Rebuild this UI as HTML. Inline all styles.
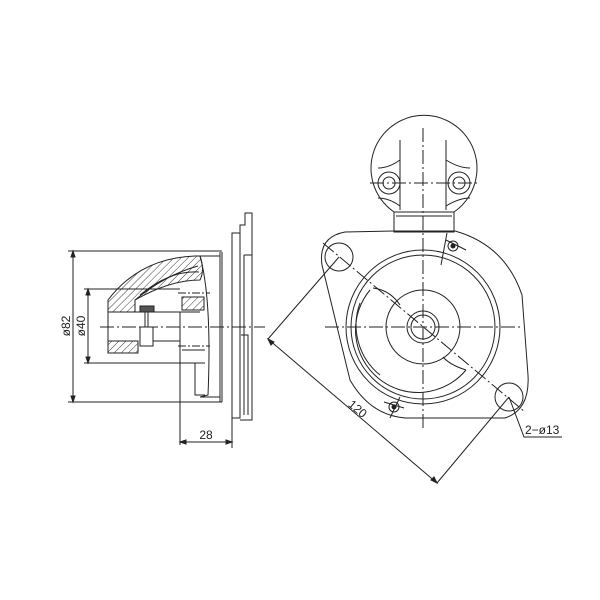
<!DOCTYPE html>
<html><head><meta charset="utf-8"><style>html,body{margin:0;padding:0;background:#fff}svg{display:block}</style></head><body>
<svg width="600" height="600" viewBox="0 0 600 600" xmlns="http://www.w3.org/2000/svg">
<defs>
<pattern id="h" width="5" height="5" patternUnits="userSpaceOnUse" patternTransform="rotate(45)"><line x1="0" y1="0" x2="0" y2="5" stroke="#222" stroke-width="0.9"/></pattern>
</defs>
<g fill="none" stroke="#222" stroke-width="1">
<!-- LEFT VIEW -->
<!-- dimension lines -->
<line x1="73" y1="251" x2="73" y2="402"/>
<line x1="68" y1="251" x2="222" y2="251"/>
<line x1="68" y1="402" x2="222" y2="402"/>
<line x1="88" y1="289" x2="88" y2="363"/>
<line x1="84" y1="289" x2="180" y2="289"/>
<line x1="84" y1="363" x2="205" y2="363"/>
<!-- mounting plate -->
<rect x="232" y="233" width="8" height="185"/>
<path d="M240 233 V225 H245 V213 H252 V420 H240"/>
<line x1="244" y1="255" x2="252" y2="255"/>
<line x1="244" y1="255" x2="244" y2="415"/>
<path d="M241 335 H248 V415"/>
<!-- body -->
<path d="M220 252 V402 M222 252 V402"/>
<path d="M200 256 H220 M200 397 H220"/>
<path d="M200 256 Q212 300 208 395 L200 397"/>
<!-- hatched arc housing -->
<path d="M108 300 Q140 258 195 256 L200 256 Q205 270 200 280 Q170 280 135 300 L135 312 H108 Z" fill="url(#h)"/>
<path d="M135 300 Q165 275 198 266" />
<path d="M140 295 Q170 270 199 272" />
<rect x="182" y="297" width="22" height="13" fill="url(#h)"/>
<rect x="108" y="341" width="30" height="12" fill="url(#h)"/>
<rect x="140" y="306" width="14" height="6" fill="#555"/>
<rect x="140" y="327" width="13" height="19"/>
<line x1="145" y1="312" x2="145" y2="327"/>
<line x1="148" y1="312" x2="148" y2="327"/>
<line x1="108" y1="312" x2="108" y2="353"/>
<line x1="108" y1="312" x2="200" y2="312"/>
<line x1="153" y1="341" x2="180" y2="341"/>
<line x1="180" y1="312" x2="180" y2="445"/>
<path d="M182 350 H205 M195 363 V395 H205"/>
<line x1="178" y1="293" x2="210" y2="293" stroke-dasharray="8 2 2 2"/>
<line x1="178" y1="346" x2="210" y2="346" stroke-dasharray="8 2 2 2"/>
<line x1="100" y1="327" x2="265" y2="327" stroke-dasharray="14 3 2 3"/>
<!-- 28 dimension -->
<line x1="232" y1="418" x2="232" y2="448"/>
<line x1="180" y1="442" x2="232" y2="442"/>
<path d="M180 442 l6 -2 v4 z M232 442 l-6 -2 v4 z" fill="#222"/>
<path d="M73 251 l-2 6 h4 z M73 402 l-2 -6 h4 z M88 289 l-2 6 h4 z M88 363 l-2 -6 h4 z" fill="#222"/>

<!-- RIGHT VIEW -->
<!-- top cap -->
<path d="M394 212 A53 53 0 1 1 454 212"/>
<path d="M400 140 V210 M446 140 V210"/>
<rect x="394" y="212" width="60" height="20"/>
<line x1="396" y1="216" x2="452" y2="216"/>
<circle cx="389" cy="183" r="11"/><circle cx="389" cy="183" r="6"/>
<circle cx="459" cy="183" r="11"/><circle cx="459" cy="183" r="6"/>
<path d="M378 168 Q389 168 400 160 M378 198 Q389 198 400 206 M470 168 Q459 168 446 160 M470 198 Q459 198 446 206"/>
<line x1="370" y1="183" x2="480" y2="183" stroke-dasharray="14 3 2 3"/>
<line x1="423" y1="128" x2="423" y2="430" stroke-dasharray="14 3 2 3"/>
<!-- flange -->
<path d="M394 231 H455 Q505 245 522 295 L528 375 Q530 410 505 418 H405 Q370 415 350 380 L322 265 Q318 237 345 232 Z"/>
<circle cx="339" cy="257" r="14"/>
<circle cx="509" cy="397" r="14"/>
<circle cx="453" cy="246" r="5"/><circle cx="453" cy="246" r="2" fill="#222"/>
<circle cx="394" cy="407" r="5"/><circle cx="394" cy="407" r="2" fill="#222"/>
<path d="M447 233 L441 265 M446 240 L466 250 M400 397 L390 418 M384 402 L404 408"/>
<!-- circles -->
<circle cx="423" cy="327" r="77"/>
<circle cx="423" cy="327" r="72"/>
<path d="M370 290 A60 60 0 1 0 466 370"/>
<path d="M360 303 A64 64 0 0 0 380 375"/>
<path d="M373 288 Q390 290 400 305 M466 370 Q450 365 443 357"/>
<circle cx="423" cy="327" r="37" stroke-dasharray="40 0"/>
<circle cx="423" cy="327" r="16"/>
<circle cx="423" cy="327" r="12"/>
<line x1="325" y1="327" x2="522" y2="327" stroke-dasharray="14 3 2 3"/>
<line x1="323" y1="243" x2="525" y2="412" stroke-dasharray="14 3 2 3"/>
<!-- 120 dim -->
<line x1="268" y1="339" x2="437" y2="483"/>
<line x1="268" y1="339" x2="339" y2="257"/>
<line x1="437" y1="483" x2="509" y2="397"/>
<path d="M268 339 l3 6 l3 -3 z M437 483 l-3 -6 l-3 3 z" fill="#222"/>
<path d="M509 397 L524 437 H562"/>
</g>
<g font-family="Liberation Sans, sans-serif" font-size="12" fill="#222">
<text x="70" y="326" transform="rotate(-90 70 326)" text-anchor="middle">ø82</text>
<text x="85" y="326" transform="rotate(-90 85 326)" text-anchor="middle">ø40</text>
<text x="206" y="439" text-anchor="middle">28</text>
<text x="355" y="412" transform="rotate(40 355 412)" text-anchor="middle">120</text>
<text x="525" y="434">2−ø13</text>
</g>
</svg>
</body></html>
